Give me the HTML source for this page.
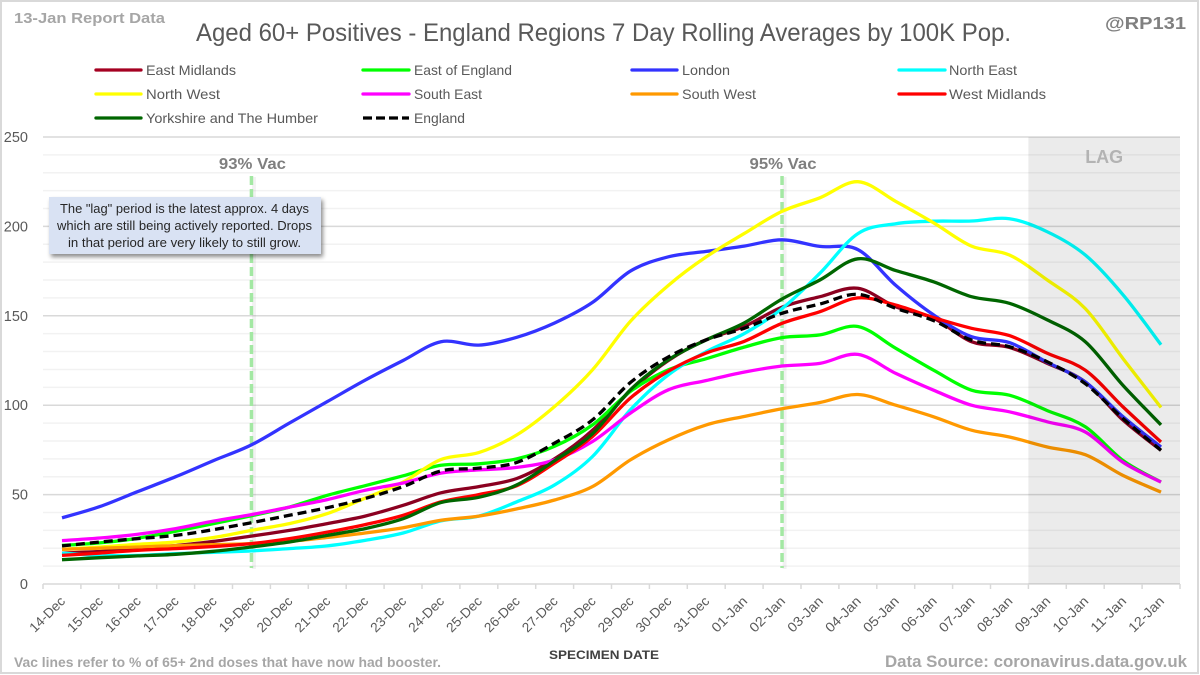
<!DOCTYPE html>
<html>
<head>
<meta charset="utf-8">
<title>Aged 60+ Positives - England Regions</title>
<style>
html,body{margin:0;padding:0;background:#fff;}
svg{display:block;font-family:"Liberation Sans",sans-serif;}
</style>
</head>
<body>
<svg id="chart" xmlns="http://www.w3.org/2000/svg" width="1200" height="675" viewBox="0 0 1200 675">
  <defs>
    <filter id="boxShadow" x="-10%" y="-20%" width="120%" height="150%">
      <feDropShadow dx="2" dy="3" stdDeviation="2.2" flood-color="#000" flood-opacity="0.45"/>
    </filter>
  </defs>
  <rect x="1" y="1" width="1197" height="672" fill="#fff" stroke="#d9d9d9" stroke-width="2"/>
  <g id="grid"></g>
  <g id="yLabels" font-size="14.5" fill="#595959" text-anchor="end"></g>
  <g id="xAxis"></g>
  <g id="vac"></g>
  <g id="series"></g>
  <rect id="lagBand" fill="#000" fill-opacity="0.08"/>
  <text id="lagLabel" y="163" font-size="18" font-weight="bold" fill="#b3b3b3" text-anchor="middle">LAG</text>

  <text x="14" y="23" font-size="15" font-weight="bold" fill="#a6a6a6" textLength="151" lengthAdjust="spacingAndGlyphs">13-Jan Report Data</text>
  <text x="196" y="41" font-size="25" fill="#595959" textLength="815" lengthAdjust="spacingAndGlyphs">Aged 60+ Positives - England Regions 7 Day Rolling Averages by 100K Pop.</text>
  <text x="1105" y="29" font-size="17.5" font-weight="bold" fill="#808080" textLength="81" lengthAdjust="spacingAndGlyphs">@RP131</text>

  <g font-size="14" fill="#595959">
    <g><line x1="96" x2="141" y1="70" y2="70" stroke="#a50021" stroke-width="3.3" stroke-linecap="round"/><text x="146" y="75" textLength="90" lengthAdjust="spacingAndGlyphs">East Midlands</text></g>
    <g><line x1="363" x2="409" y1="70" y2="70" stroke="#00ff00" stroke-width="3.3" stroke-linecap="round"/><text x="414" y="75" textLength="98" lengthAdjust="spacingAndGlyphs">East of England</text></g>
    <g><line x1="632" x2="677" y1="70" y2="70" stroke="#3333ff" stroke-width="3.3" stroke-linecap="round"/><text x="682" y="75" textLength="48" lengthAdjust="spacingAndGlyphs">London</text></g>
    <g><line x1="899" x2="945" y1="70" y2="70" stroke="#00ffff" stroke-width="3.3" stroke-linecap="round"/><text x="949" y="75" textLength="68" lengthAdjust="spacingAndGlyphs">North East</text></g>
    <g><line x1="96" x2="141" y1="94" y2="94" stroke="#ffff00" stroke-width="3.3" stroke-linecap="round"/><text x="146" y="99" textLength="74" lengthAdjust="spacingAndGlyphs">North West</text></g>
    <g><line x1="363" x2="409" y1="94" y2="94" stroke="#ff00ff" stroke-width="3.3" stroke-linecap="round"/><text x="414" y="99" textLength="68" lengthAdjust="spacingAndGlyphs">South East</text></g>
    <g><line x1="632" x2="677" y1="94" y2="94" stroke="#ff9900" stroke-width="3.3" stroke-linecap="round"/><text x="682" y="99" textLength="74" lengthAdjust="spacingAndGlyphs">South West</text></g>
    <g><line x1="899" x2="945" y1="94" y2="94" stroke="#ff0000" stroke-width="3.3" stroke-linecap="round"/><text x="949" y="99" textLength="97" lengthAdjust="spacingAndGlyphs">West Midlands</text></g>
    <g><line x1="96" x2="141" y1="118" y2="118" stroke="#006600" stroke-width="3.3" stroke-linecap="round"/><text x="146" y="123" textLength="172" lengthAdjust="spacingAndGlyphs">Yorkshire and The Humber</text></g>
    <g><line x1="363" x2="409" y1="118" y2="118" stroke="#000" stroke-width="3.3" stroke-dasharray="9 4"/><text x="414" y="123" textLength="51" lengthAdjust="spacingAndGlyphs">England</text></g>
  </g>

  <g>
    <rect x="49" y="197" width="272" height="57" fill="#d9e2f3" filter="url(#boxShadow)"/>
    <text x="60" y="213" font-size="13" fill="#262626" textLength="249" lengthAdjust="spacingAndGlyphs">The "lag" period is the latest approx. 4 days</text>
    <text x="57" y="230" font-size="13" fill="#262626" textLength="255" lengthAdjust="spacingAndGlyphs">which are still being actively reported.  Drops</text>
    <text x="68" y="247" font-size="13" fill="#262626" textLength="233" lengthAdjust="spacingAndGlyphs">in that period are very likely to still grow.</text>
  </g>

  <text x="14" y="667" font-size="14" font-weight="bold" fill="#a6a6a6" textLength="427" lengthAdjust="spacingAndGlyphs">Vac lines refer to % of 65+ 2nd doses that have now had booster.</text>
  <text x="604" y="659" font-size="12" font-weight="bold" fill="#404040" text-anchor="middle" textLength="110" lengthAdjust="spacingAndGlyphs">SPECIMEN DATE</text>
  <text x="885" y="667" font-size="16.5" font-weight="bold" fill="#a6a6a6" textLength="302" lengthAdjust="spacingAndGlyphs">Data Source: coronavirus.data.gov.uk</text>
</svg>

<script>
const categories = ["14-Dec","15-Dec","16-Dec","17-Dec","18-Dec","19-Dec","20-Dec","21-Dec","22-Dec","23-Dec","24-Dec","25-Dec","26-Dec","27-Dec","28-Dec","29-Dec","30-Dec","31-Dec","01-Jan","02-Jan","03-Jan","04-Jan","05-Jan","06-Jan","07-Jan","08-Jan","09-Jan","10-Jan","11-Jan","12-Jan"];
const yTicks = [0,50,100,150,200,250];
const yMinorStep = 10;
const yMax = 250;

const eastMidlands = [17.3,18.2,19.6,21.5,23.8,26.8,30,33.8,38,44,51,54.5,59,70,86,108,125,136.6,144,154.8,160.7,165.4,155,148.6,135.5,132.3,123.4,113,91.6,74.8];
const eastOfEngland = [21.6,23,25.6,29.5,33.8,38.2,43,49.6,55,60.5,66.4,67.2,70,77,89,107.7,119.8,126,132.5,137.8,139.3,144,131.8,119.6,108.4,105.6,97,87.9,69,57];
const london = [37,43.3,51.7,60,69,77.8,90,102,114,125,135.5,133.6,138,146,157.5,175,183,186,189,192.5,188.8,187,167,150.5,138.3,135,124,113,93.5,76.6];
const northEast = [17.3,16,16,17,17.7,18.5,19.8,21.3,24.4,28.5,35.3,38,46,55.4,71.3,97.4,117,130,140,154,173.8,196,201.5,202.9,203,204.3,197,184,161.7,133.8];
const northWest = [19.4,20.7,22.2,23.5,26,30,33.8,39.4,48,57,69.6,73.5,83.4,99.3,119.8,146.9,167,183,196,208.4,216,225,214,202,189,184,170,154,126,98.7];
const southEast = [24.3,25.7,27.8,31,35.2,38.8,43,47.2,52.4,56.5,62,63.8,65.2,69.4,79.7,95.6,108.6,113.8,118.5,121.9,123.4,128.4,117.8,108.4,100,96.3,90.7,85,68,57];
const southWest = [19.4,20,20.7,21.5,22,22.6,23.8,26,28.5,31.5,35.6,38,42,47,54.5,69.4,80.6,89,93.7,98,101.5,106,100,93.5,86,82.2,76.6,72.3,60.7,51.4];
const westMidlands = [16,17.3,18.8,19.8,21,22.6,25.4,29,33.2,38.4,45.9,50,55,67.6,82.5,104,119,129.2,135.7,145.8,152.3,160,156,149,143,138.9,129,119.6,99,79.4];
const yorkshireHumber = [13.6,14.7,15.7,16.6,18.3,20.7,23.5,27.2,31,36.5,45.5,48.5,55.4,69,84,108.6,125.4,136.5,146,159.4,170,181.9,175.3,169,160.7,157,147.7,135.5,111,89];
const england = [21.3,23.5,25.4,27.2,30.4,34.3,38.4,42.7,47.8,54.5,63.2,64.8,68,78.8,91.8,112.7,127,136.6,143,151.4,156.6,162,154.2,147.3,136.4,132.7,124.3,112,92.5,74.8];

const seriesList = [
  {key:"east-midlands", values:eastMidlands, color:"#8b0020"},
  {key:"east-of-england", values:eastOfEngland, color:"#00ff00"},
  {key:"london", values:london, color:"#3333ff"},
  {key:"north-east", values:northEast, color:"#00ffff"},
  {key:"north-west", values:northWest, color:"#ffff00"},
  {key:"south-east", values:southEast, color:"#ff00ff"},
  {key:"south-west", values:southWest, color:"#ff9900"},
  {key:"west-midlands", values:westMidlands, color:"#ff0000"},
  {key:"yorkshire-and-the-humber", values:yorkshireHumber, color:"#006600"},
  {key:"england", values:england, color:"#000000", dash:"9 5"}
];

const vacMarkers = [{category:"19-Dec", label:"93% Vac"},{category:"02-Jan", label:"95% Vac"}];
const lagStartCategory = "09-Jan";

const plotLeft = 43, plotRight = 1180, plotTop = 137, plotBottom = 584;
const NS = "http://www.w3.org/2000/svg";
const band = (plotRight - plotLeft) / categories.length;
function xPos(i){ return plotLeft + band * (i + 0.5); }
function yPos(v){ return plotBottom - (v / yMax) * (plotBottom - plotTop); }
function make(tag, attrs, parent){
  const el = document.createElementNS(NS, tag);
  for (const k in attrs) el.setAttribute(k, attrs[k]);
  parent.appendChild(el);
  return el;
}
function smoothPath(values){
  const p = values.map((v,i)=>[xPos(i), yPos(v)]);
  let d = "M" + p[0][0].toFixed(1) + " " + p[0][1].toFixed(1);
  for (let i = 0; i < p.length - 1; i++){
    const a = p[Math.max(i-1,0)], b = p[i], c = p[i+1], e = p[Math.min(i+2,p.length-1)];
    const c1x = b[0] + (c[0]-a[0])/6, c1y = b[1] + (c[1]-a[1])/6;
    const c2x = c[0] - (e[0]-b[0])/6, c2y = c[1] - (e[1]-b[1])/6;
    d += "C" + c1x.toFixed(1) + " " + c1y.toFixed(1) + " " + c2x.toFixed(1) + " " + c2y.toFixed(1) + " " + c[0].toFixed(1) + " " + c[1].toFixed(1);
  }
  return d;
}

const gridG = document.getElementById("grid");
for (let v = 0; v <= yMax; v += yMinorStep){
  if (v % 50 === 0) continue;
  const minor = make("line", {x1:plotLeft, x2:plotRight, y1:yPos(v), y2:yPos(v), stroke:"#f2f2f2", "stroke-width":1.5}, gridG);
  
  
}
const yLabelG = document.getElementById("yLabels");
yTicks.forEach(function(v){
  const major = make("line", {x1:plotLeft, x2:plotRight, y1:yPos(v), y2:yPos(v), stroke:"#d9d9d9", "stroke-width":1.5}, gridG);
  
  
  const t = make("text", {x:28, y:yPos(v)+5}, yLabelG);
  
  
  t.textContent = v;
});

const xG = document.getElementById("xAxis");
for (let i = 0; i <= categories.length; i++){
  const tx = plotLeft + band * i;
  const tick = make("line", {x1:tx, x2:tx, y1:plotBottom, y2:plotBottom+5, stroke:"#d9d9d9", "stroke-width":1.5}, xG);
  
  
}
categories.forEach(function(c,i){
  const lx = xPos(i) + 4, ly = 602;
  const t = make("text", {x:lx, y:ly, "font-size":13.5, fill:"#595959", "text-anchor":"end", textLength:44, lengthAdjust:"spacingAndGlyphs", transform:"rotate(-45 "+lx+" "+ly+")"}, xG);
  
  
  t.textContent = c;
});

const vacG = document.getElementById("vac");
vacMarkers.forEach(function(m){
  const x = xPos(categories.indexOf(m.category));
  const shade = make("line", {x1:x+2.5, x2:x+2.5, y1:177, y2:569, stroke:"#000", "stroke-opacity":0.05, "stroke-width":4}, vacG);
  
  
  const l = make("line", {x1:x, x2:x, y1:176, y2:568, stroke:"#a3e8a3", "stroke-width":3.5, "stroke-dasharray":"9 4"}, vacG);
  
  
  const t = make("text", {x:x+1, y:169, "font-size":15.5, "font-weight":"bold", fill:"#7f7f7f", "text-anchor":"middle", textLength:67, lengthAdjust:"spacingAndGlyphs"}, vacG);
  
  
  t.textContent = m.label;
});

const seriesG = document.getElementById("series");
seriesList.forEach(function(s){
  const attrs = {d:smoothPath(s.values), fill:"none", stroke:s.color, "stroke-width":3.3, "stroke-linejoin":"round"};
  if (s.dash) attrs["stroke-dasharray"] = s.dash;
  const path = make("path", attrs, seriesG);
  
  
});

const lagX = plotLeft + band * categories.indexOf(lagStartCategory);
const lagRect = document.getElementById("lagBand");
lagRect.setAttribute("x", lagX);
lagRect.setAttribute("y", plotTop);
lagRect.setAttribute("width", plotRight - lagX);
lagRect.setAttribute("height", plotBottom - plotTop);
document.getElementById("lagLabel").setAttribute("x", (lagX + plotRight) / 2);
</script>
</body>
</html>
